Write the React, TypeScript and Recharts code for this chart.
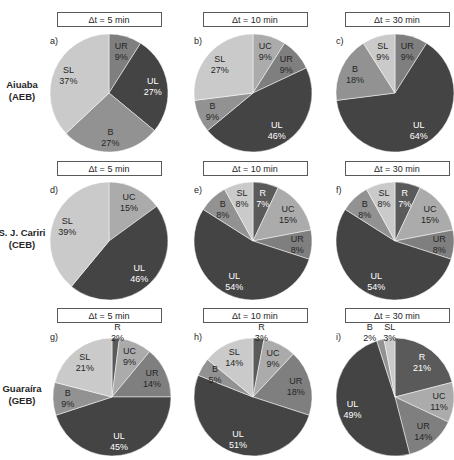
import { Cell, Pie, PieChart } from "recharts";

// slice order runs clockwise from 12 o'clock
const categories = ["R", "UC", "UR", "UL", "B", "SL"];

const aiuaba5 = [null, null, 9, 27, 27, 37];
const aiuaba10 = [null, 9, 9, 46, 9, 27];
const aiuaba30 = [null, null, 9, 64, 18, 9];
const cariri5 = [null, 15, null, 46, null, 39];
const cariri10 = [7, 15, 8, 54, 8, 8];
const cariri30 = [7, 15, 8, 54, 8, 8];
const guaraira5 = [2, 9, 14, 45, 9, 21];
const guaraira10 = [3, 9, 18, 51, 5, 14];
const guaraira30 = [21, 11, 14, 49, 2, 3];

const intervals = ["Δt = 5 min", "Δt = 10 min", "Δt = 30 min"];
const basins = [
  ["Aiuaba", "(AEB)"],
  ["S. J. Cariri", "(CEB)"],
  ["Guaraíra", "(GEB)"],
];
const panelLetters = ["a)", "b)", "c)", "d)", "e)", "f)", "g)", "h)", "i)"];

const panels = [
  [aiuaba5, aiuaba10, aiuaba30],
  [cariri5, cariri10, cariri30],
  [guaraira5, guaraira10, guaraira30],
];

const sliceFill: Record<string, string> = {
  R: "#5a5a5a",
  UC: "#ababab",
  UR: "#7f7f7f",
  UL: "#444444",
  B: "#929292",
  SL: "#cacaca",
};
const lightText = new Set(["R", "UL"]);

const W = 454;
const H = 460;
const colX = [109, 253, 395];
const rowY = [93, 241, 397];
const boxX = [57, 203, 345];
const boxY = [12, 161, 308];
const R = 59;
const SMALL = 0.04;
const FONT = "'Liberation Sans', Arial, sans-serif";
const RAD = Math.PI / 180;

type Slice = { name: string; value: number };

function toSlices(values: (number | null)[]): Slice[] {
  return categories
    .map((name, i) => ({ name, value: values[i] }))
    .filter((d) => d.value != null) as Slice[];
}

// x offset of an outside label, before spreading neighbours apart
function outsideDx(midAngle: number, radius: number) {
  return (radius + 30) * Math.cos(-midAngle * RAD);
}

function makeLabel(slices: Slice[]) {
  const total = slices.reduce((s, d) => s + d.value, 0);
  // mid angles of the tiny slices, so their outside labels can be kept apart
  const mids: Record<string, number> = {};
  let acc = 0;
  slices.forEach((d) => {
    mids[d.name] = 90 - ((acc + d.value / 2) / total) * 360;
    acc += d.value;
  });
  const small = slices.filter((d) => d.value / total < SMALL);

  return (props: any) => {
    const { cx, cy, midAngle, outerRadius, value, name, percent } = props;
    if (percent < SMALL) {
      let dx = outsideDx(midAngle, outerRadius);
      small.forEach((o) => {
        if (o.name === name) return;
        const odx = outsideDx(mids[o.name], outerRadius);
        const gap = Math.abs(dx - odx);
        if (gap < 20) dx += ((20 - gap) / 2) * (dx < odx ? -1 : 1);
      });
      const x = cx + dx;
      return (
        <text x={x} textAnchor="middle" fontFamily={FONT} fontSize={9} fill="#262626">
          <tspan x={x} y={cy - outerRadius - 8}>{name}</tspan>
          <tspan x={x} y={cy - outerRadius + 3}>{value}%</tspan>
        </text>
      );
    }
    const x = cx + outerRadius * 0.75 * Math.cos(-midAngle * RAD);
    const y = cy + outerRadius * 0.75 * Math.sin(-midAngle * RAD);
    const fill = lightText.has(name) ? "#ffffff" : "#262626";
    return (
      <text x={x} textAnchor="middle" fontFamily={FONT} fontSize={9} fill={fill}>
        <tspan x={x} y={y - 2}>{name}</tspan>
        <tspan x={x} y={y + 9}>{value}%</tspan>
      </text>
    );
  };
}

export default function App() {
  return (
    <div style={{ position: "absolute", left: 0, top: 0, width: W, height: H, background: "#fff" }}>
      <PieChart width={W} height={H} margin={{ top: 0, right: 0, bottom: 0, left: 0 }}>
        {panels.flatMap((row, r) =>
          row.map((values, c) => {
            const slices = toSlices(values);
            // the Guaraíra 5-min pie sits a little right of its column
            const cx = r === 2 && c === 0 ? 112 : colX[c];
            return (
              <Pie
                key={`${r}-${c}`}
                data={slices}
                dataKey="value"
                nameKey="name"
                cx={cx}
                cy={rowY[r]}
                outerRadius={R}
                startAngle={90}
                endAngle={-270}
                stroke="#ffffff"
                strokeWidth={0.5}
                label={makeLabel(slices)}
                labelLine={false}
                isAnimationActive={false}
              >
                {slices.map((d) => (
                  <Cell key={d.name} fill={sliceFill[d.name]} />
                ))}
              </Pie>
            );
          })
        )}
      </PieChart>
      <svg
        width={W}
        height={H}
        style={{ position: "absolute", left: 0, top: 0, pointerEvents: "none" }}
        fontFamily={FONT}
      >
        {boxY.map((y, r) =>
          boxX.map((x, c) => (
            <g key={`box-${r}-${c}`}>
              <rect x={x + 0.5} y={y + 0.5} width={104} height={14} fill="#fff" stroke="#595959" strokeWidth={1} />
              <text x={x + 52} y={y + 11} textAnchor="middle" fontSize={9} fill="#262626">
                {intervals[c]}
              </text>
              <text x={colX[c] - 59} y={y + 32} fontSize={9} fill="#262626">
                {panelLetters[r * 3 + c]}
              </text>
            </g>
          ))
        )}
        {basins.map(([name, code], r) => (
          <text key={name} textAnchor="middle" fontSize={9.5} fontWeight="bold" fill="#262626">
            <tspan x={22} y={rowY[r] - 5}>{name}</tspan>
            <tspan x={22} y={rowY[r] + 7}>{code}</tspan>
          </text>
        ))}
      </svg>
    </div>
  );
}
